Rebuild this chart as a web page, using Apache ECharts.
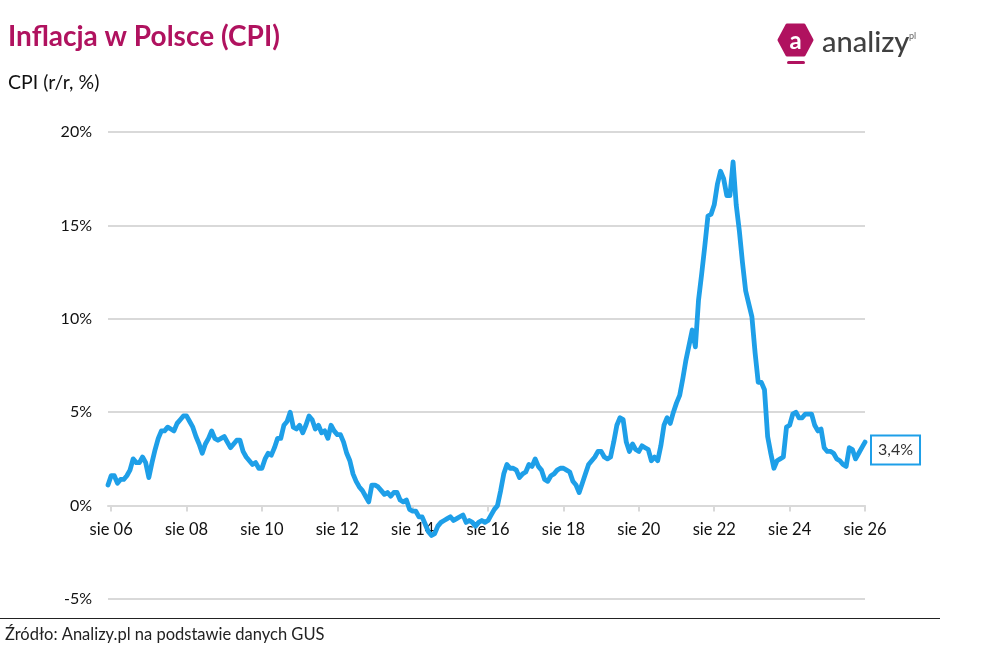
<!DOCTYPE html>
<html>
<head>
<meta charset="utf-8">
<script src="https://cdn.jsdelivr.net/npm/echarts@6/dist/echarts.min.js"></script>
<style>
html,body{margin:0;padding:0;background:#fff;}
#chart{width:984px;height:648px;}
</style>
</head>
<body>
<div id="chart"></div>
<script>
// Monthly CPI y/y (%), starting July 2006
const startYear = 2006, startMonth = 7;
const cpi2006 = [1.1, 1.6, 1.6, 1.2, 1.4, 1.4];
const cpi2007 = [1.6, 1.9, 2.5, 2.3, 2.3, 2.6, 2.3, 1.5, 2.3, 3.0, 3.6, 4.0];
const cpi2008 = [4.0, 4.2, 4.1, 4.0, 4.4, 4.6, 4.8, 4.8, 4.5, 4.2, 3.7, 3.3];
const cpi2009 = [2.8, 3.3, 3.6, 4.0, 3.6, 3.5, 3.6, 3.7, 3.4, 3.1, 3.3, 3.5];
const cpi2010 = [3.5, 2.9, 2.6, 2.4, 2.2, 2.3, 2.0, 2.0, 2.5, 2.8, 2.7, 3.1];
const cpi2011 = [3.6, 3.6, 4.3, 4.5, 5.0, 4.2, 4.1, 4.3, 3.9, 4.3, 4.8, 4.6];
const cpi2012 = [4.1, 4.3, 3.9, 4.0, 3.6, 4.3, 4.0, 3.8, 3.8, 3.4, 2.8, 2.4];
const cpi2013 = [1.7, 1.3, 1.0, 0.8, 0.5, 0.2, 1.1, 1.1, 1.0, 0.8, 0.6, 0.7];
const cpi2014 = [0.5, 0.7, 0.7, 0.3, 0.2, 0.3, -0.2, -0.3, -0.3, -0.6, -0.6, -1.0];
const cpi2015 = [-1.4, -1.6, -1.5, -1.1, -0.9, -0.8, -0.7, -0.6, -0.8, -0.7, -0.6, -0.5];
const cpi2016 = [-0.9, -0.8, -0.9, -1.1, -0.9, -0.8, -0.9, -0.8, -0.5, -0.2, 0.0, 0.8];
const cpi2017 = [1.7, 2.2, 2.0, 2.0, 1.9, 1.5, 1.7, 1.8, 2.2, 2.1, 2.5, 2.1];
const cpi2018 = [1.9, 1.4, 1.3, 1.6, 1.7, 1.9, 2.0, 2.0, 1.9, 1.8, 1.3, 1.1];
const cpi2019 = [0.7, 1.2, 1.7, 2.2, 2.4, 2.6, 2.9, 2.9, 2.6, 2.5, 2.6, 3.4];
const cpi2020 = [4.3, 4.7, 4.6, 3.4, 2.9, 3.3, 3.0, 2.9, 3.2, 3.1, 3.0, 2.4];
const cpi2021 = [2.6, 2.4, 3.2, 4.3, 4.7, 4.4, 5.0, 5.5, 5.9, 6.8, 7.8, 8.6];
const cpi2022 = [9.4, 8.5, 11.0, 12.4, 13.9, 15.5, 15.6, 16.1, 17.2, 17.9, 17.5, 16.6];
const cpi2023 = [16.6, 18.4, 16.1, 14.7, 13.0, 11.5, 10.8, 10.1, 8.2, 6.6, 6.6, 6.2];
const cpi2024 = [3.7, 2.8, 2.0, 2.4, 2.5, 2.6, 4.2, 4.3, 4.9, 5.0, 4.7, 4.7];
const cpi2025 = [4.9, 4.9, 4.9, 4.3, 4.0, 4.1, 3.1, 2.9, 2.9, 2.8, 2.5, 2.4];
const cpi2026 = [2.2, 2.1, 3.1, 3.0, 2.5, 2.8, 3.1, 3.4];

const cpi = [].concat(cpi2006, cpi2007, cpi2008, cpi2009, cpi2010, cpi2011, cpi2012,
  cpi2013, cpi2014, cpi2015, cpi2016, cpi2017, cpi2018, cpi2019, cpi2020, cpi2021,
  cpi2022, cpi2023, cpi2024, cpi2025, cpi2026);

const monthNames = ['sty','lut','mar','kwi','maj','cze','lip','sie','wrz','paź','lis','gru'];
const categories = [];
for (let i = 0; i < cpi.length; i++) {
  const m = (startMonth - 1 + i) % 12;
  const y = startYear + Math.floor((startMonth - 1 + i) / 12);
  categories.push(monthNames[m] + ' ' + String(y).slice(2));
}
const yTicks = [-5, 0, 5, 10, 15, 20];

const FONT = 'Lato, "Open Sans", sans-serif';
const BLUE = '#1E9FE8';
const showTick = (idx) => {
  const c = categories[idx];
  if (!c.startsWith('sie ')) return false;
  return parseInt(c.slice(4), 10) % 2 === 0;
};

const GRID_TOP = 132, GRID_BOTTOM = 49, H = 648;
const plotH = H - GRID_TOP - GRID_BOTTOM;
const zeroOffset = -plotH * (0 - yTicks[0]) / (yTicks[yTicks.length - 1] - yTicks[0]);

const chart = echarts.init(document.getElementById('chart'), null, {renderer: 'canvas'});
chart.setOption({
  backgroundColor: '#fff',
  animation: false,
  textStyle: {fontFamily: FONT},
  title: [
    {text: 'Inflacja w Polsce (CPI)', left: 8, top: 23, padding: 0,
      textStyle: {fontFamily: FONT, fontSize: 28, fontWeight: 'bold', color: '#B0125F'}},
    {text: 'CPI (r/r, %)', left: 8, top: 73, padding: 0,
      textStyle: {fontFamily: FONT, fontSize: 19.5, fontWeight: 'normal', color: '#111'}}
  ],
  grid: {left: 108, right: 119, top: GRID_TOP, bottom: GRID_BOTTOM, containLabel: false},
  xAxis: {
    type: 'category', data: categories, boundaryGap: false,
    position: 'bottom', offset: zeroOffset,
    axisLine: {onZero: false, lineStyle: {color: '#d9d9d9', width: 2}},
    axisTick: {show: true, interval: showTick, length: 6, lineStyle: {color: '#d9d9d9', width: 2}},
    axisLabel: {interval: showTick, color: '#111', fontSize: 16.5, margin: 16, fontFamily: FONT},
    splitLine: {show: false}
  },
  yAxis: {
    type: 'value', min: yTicks[0], max: yTicks[yTicks.length - 1], interval: 5,
    axisLine: {show: false}, axisTick: {show: false},
    axisLabel: {formatter: '{value}%', color: '#111', fontSize: 16, margin: 16, fontFamily: FONT},
    splitLine: {lineStyle: {color: '#d9d9d9', width: 2}}
  },
  series: [{
    type: 'line', data: cpi, showSymbol: false, symbol: 'none', smooth: false,
    lineStyle: {color: BLUE, width: 4.8, join: 'round', cap: 'round'},
    endLabel: {
      show: true,
      formatter: (p) => String(p.value.toFixed(1)).replace('.', ',') + '%',
      color: '#333', fontSize: 16, fontFamily: FONT,
      backgroundColor: '#fff', borderColor: BLUE, borderWidth: 2,
      padding: [6, 6, 5, 6], distance: 7, offset: [0, 8]
    }
  }],
  graphic: [
    {type: 'polygon', shape: {points: [[779, 40], [787, 25], [804, 25], [812, 40], [804, 55], [787, 55]]},
      style: {fill: '#B0125F', lineJoin: 'round', stroke: '#B0125F', lineWidth: 3}},
    {type: 'rect', shape: {x: 787, y: 61, width: 18, height: 3, r: 1.5}, style: {fill: '#B0125F'}},
    {type: 'text', x: 795.5, y: 41, style: {text: 'a', fill: '#fff', font: 'bold 24px ' + FONT, textAlign: 'center', textVerticalAlign: 'middle'}},
    {type: 'text', x: 822, y: 43, style: {text: 'analizy', fill: '#404040', font: '500 29px ' + FONT, textAlign: 'left', textVerticalAlign: 'middle'}},
    {type: 'text', x: 909, y: 36, style: {text: 'pl', fill: '#666', font: '9px ' + FONT, textAlign: 'left', textVerticalAlign: 'middle'}},
    {type: 'line', shape: {x1: 0, y1: 618.5, x2: 940, y2: 618.5}, style: {stroke: '#222', lineWidth: 1}},
    {type: 'text', x: 5, y: 635, style: {text: 'Źródło: Analizy.pl na podstawie danych GUS', fill: '#222', font: '16.5px ' + FONT, textAlign: 'left', textVerticalAlign: 'middle'}}
  ]
});
</script>
</body>
</html>
